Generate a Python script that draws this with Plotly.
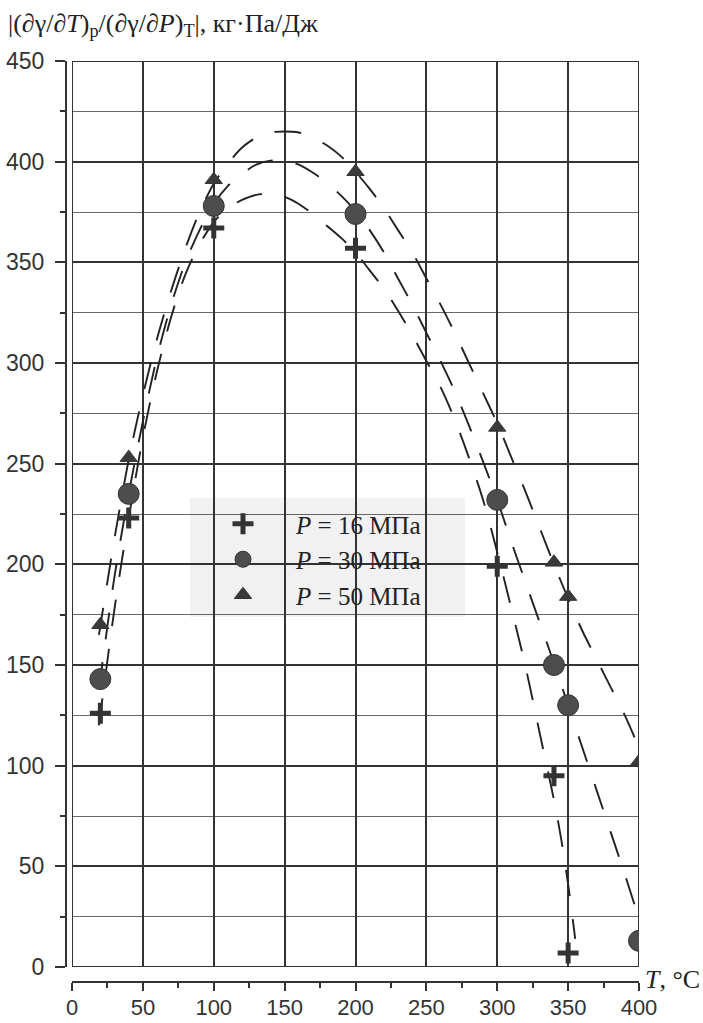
import plotly.graph_objects as go

W, H = 703, 1023

# ---- measured points ----
T16 = [20, 40, 100, 200, 300, 340, 350]
V16 = [126, 223, 367, 357, 199, 95, 7]
T30 = [20, 40, 100, 200, 300, 340, 350, 400]
V30 = [143, 235, 378, 374, 232, 150, 130, 13]
T50 = [20, 40, 100, 200, 300, 340, 350, 400]
V50 = [170, 253, 391, 395, 268, 201, 184, 102]

# ---- dashed trend curves ----
CT_50 = [19, 30, 40, 50, 60, 70, 80, 90, 100, 110, 120, 130, 140, 150, 160, 170, 180, 190, 200,
         210, 220, 230, 240, 250, 260, 270, 280, 290, 300, 310, 320, 330, 340, 350, 360, 370, 380, 390, 400]
CV_50 = [165, 213, 252, 284, 312, 336, 357, 375, 389, 399, 407, 412, 414.5, 415, 414.5, 412, 408, 402.5, 395,
         386.5, 377, 366, 355, 342, 329, 315, 300, 285, 270, 253, 236, 218, 200, 183, 167, 153, 139, 125, 109]
CT_30 = CT_50
CV_30 = [138, 194, 235, 271, 303, 329, 350, 366, 379, 388, 394, 398.5, 400.5, 400.5, 398.5, 394.5, 389.5, 383, 375.5,
         366, 355, 342, 329, 315, 301, 286, 269, 251, 232, 211, 191, 171, 151, 130, 109, 88, 67, 46, 24]
CT_16 = [19, 30, 40, 50, 60, 70, 80, 90, 100, 110, 120, 130, 140, 150, 160, 170, 180, 190, 200,
         210, 220, 230, 240, 250, 260, 270, 280, 290, 300, 310, 320, 330, 340, 345, 350, 355]
CV_16 = [120, 178, 223, 263, 296, 323, 344, 359, 370, 377, 381, 383.5, 384, 382.5, 379, 374, 368, 362, 355,
         346, 337, 326, 314, 301, 288, 272, 253, 232, 206, 178, 149, 116, 83, 64, 41, 14]

LEG = ["<i>P</i> = 16 МПа", "<i>P</i> = 30 МПа", "<i>P</i> = 50 МПа"]

X_TICKS = [0, 50, 100, 150, 200, 250, 300, 350, 400]
Y_TICKS = [0, 50, 100, 150, 200, 250, 300, 350, 400, 450]

SERIF = "Liberation Serif, Times New Roman, serif"
SANS = "Liberation Sans, Arial, sans-serif"
DASH = "27px,23px"

fig = go.Figure()
for cx, cy in [(CT_16, CV_16), (CT_30, CV_30), (CT_50, CV_50)]:
    fig.add_trace(go.Scatter(x=cx, y=cy, mode="lines", showlegend=False, hoverinfo="skip",
                             line=dict(color="#222222", width=1.9, dash=DASH, shape="spline", smoothing=0.8)))

fig.add_trace(go.Scatter(x=T16, y=V16, mode="markers", name=LEG[0],
                         marker=dict(symbol="cross-thin", size=15, color="#333333",
                                     line=dict(color="#333333", width=5))))
fig.add_trace(go.Scatter(x=T30, y=V30, mode="markers", name=LEG[1],
                         marker=dict(symbol="circle", size=21, color="#4d4d4d",
                                     line=dict(color="#333333", width=1))))
fig.add_trace(go.Scatter(x=T50, y=V50, mode="markers", name=LEG[2],
                         marker=dict(symbol="triangle-up", size=15, color="#3a3a3a",
                                     line=dict(color="#333333", width=1))))

x0p, x1p = 72 / W, 639 / W
y0p, y1p = (H - 967) / H, (H - 61) / H

fig.update_layout(
    template="none",
    width=W, height=H, margin=dict(l=0, r=0, t=0, b=0, pad=0, autoexpand=False),
    paper_bgcolor="white", plot_bgcolor="white",
    xaxis=dict(domain=[x0p, x1p], range=[0, 400], anchor="free", position=(H - 982) / H,
               automargin=False,
               tickvals=X_TICKS, ticks="outside", ticklen=8, tickwidth=2, tickcolor="#333",
               showline=True, linewidth=2, linecolor="#333",
               showgrid=True, gridcolor="#333", gridwidth=1.6, zeroline=False,
               minor=dict(dtick=25, ticks="outside", ticklen=5, tickwidth=2, tickcolor="#333", showgrid=False),
               tickfont=dict(family=SANS, size=22, color="#333"), ticklabelstandoff=-2),
    yaxis=dict(domain=[y0p, y1p], range=[0, 450], anchor="free", position=66 / W,
               automargin=False,
               tickvals=Y_TICKS, ticks="outside", ticklen=10, tickwidth=2, tickcolor="#333",
               showline=True, linewidth=2, linecolor="#333",
               showgrid=True, gridcolor="#333", gridwidth=1.6, zeroline=False,
               minor=dict(dtick=25, ticks="outside", ticklen=5, tickwidth=2, tickcolor="#333",
                          showgrid=True, gridcolor="#666", gridwidth=1),
               tickfont=dict(family=SANS, size=23, color="#333"), ticklabelstandoff=6),
    legend=dict(x=190 / W, xanchor="left", y=(H - 501) / H, yanchor="top",
                bgcolor="rgba(0,0,0,0)", borderwidth=0, itemwidth=96,
                font=dict(family=SERIF, size=25, color="#222"), tracegroupgap=0),
    shapes=[
        dict(type="rect", xref="paper", yref="paper", x0=190 / W, x1=465 / W,
             y0=(H - 617) / H, y1=(H - 498) / H, fillcolor="#f1f1f1", line=dict(width=0), layer="between"),
        dict(type="rect", xref="x", yref="y", x0=0, x1=400, y0=0, y1=450,
             line=dict(color="#333", width=2), layer="between"),
    ],
    annotations=[
        dict(text="|(∂γ/∂<i>T</i>)<sub>p</sub>/(∂γ/∂<i>P</i>)<sub>T</sub>|, кг·Па/Дж",
             xref="paper", yref="paper", x=6 / W, y=(H - 25) / H, xanchor="left", yanchor="middle",
             showarrow=False, font=dict(family=SERIF, size=26, color="#222")),
        dict(text="<i>T</i>, °C", xref="paper", yref="paper", x=643 / W, y=(H - 979) / H,
             xanchor="left", yanchor="middle", showarrow=False,
             font=dict(family=SERIF, size=26, color="#222")),
    ],
)

fig.write_html("out.html")
